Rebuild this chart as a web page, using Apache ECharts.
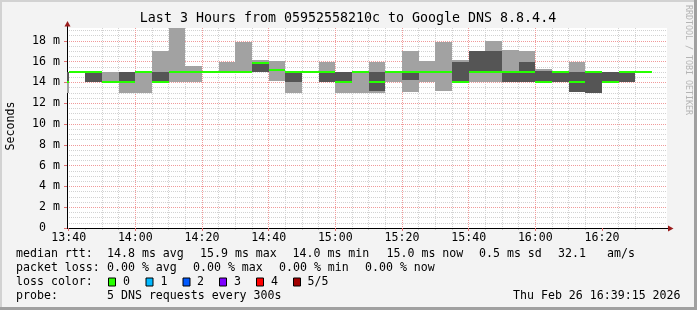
<!DOCTYPE html>
<html><head><meta charset="utf-8">
<script src="https://cdn.jsdelivr.net/npm/echarts@6/dist/echarts.min.js"></script>
<style>html,body{margin:0;padding:0;background:#f3f3f3}#c{width:697px;height:310px}</style>
</head><body><div id="c"></div>
<script>
// ---- data (ms) : one column per 5-minute step, value at step end time ----
const columnEnds = ['13:40','13:45','13:50','13:55','14:00','14:05','14:10','14:15','14:20','14:25','14:30','14:35',
  '14:40','14:45','14:50','14:55','15:00','15:05','15:10','15:15','15:20','15:25','15:30','15:35',
  '15:40','15:45','15:50','15:55','16:00','16:05','16:10','16:15','16:20','16:25','16:30','16:35'];
const pingMin    = [13,15,14,14,13,13,14,14,14,15,15,15,15,14.1,13,15,14,13,13,13,14,13.1,14,13.2,14,14,14,14,14,14,14,13.1,13,14,14,15];
const ping2      = [14,15,14,14,14,15,14,15,15,15,15,15,15,15.2,14,15,14,14,15,13.2,15,14.2,15,15,14,15,15,14,14,14,14,13.1,13,14,14,15];
const pingMedian = [14,15,15,14,14,15,14,15,15,15,15,15,15.9,15.2,15,15,15,14,15,14,15,15,15,15,14,15,15,15,15,14,15,14,15,14,15,15];
const ping4      = [15,15,15,14,15,15,15,15,15,15,15,15,16,15.2,15,15,15,15,15,15,15,15,15,15,16,17,17,15,16,15.1,15,15,15,15,15,15];
const pingMax    = [15,15,15,15,15,15,17,20,15.6,15,16,17.9,16.2,16.1,15,15,16,15,15,16,15,17,16.1,17.9,16.15,17,18,17.1,17,15.3,15,16,15,15,15,15];
const lossCount  = [0,0,0,0,0,0,0,0,0,0,0,0,0,0,0,0,0,0,0,0,0,0,0,0,0,0,0,0,0,0,0,0,0,0,0,0];
const stepMinutes = 5;

const xTickLabels = ['13:40','14:00','14:20','14:40','15:00','15:20','15:40','16:00','16:20'];
const yTickLabels = ['0','2 m','4 m','6 m','8 m','10 m','12 m','14 m','16 m','18 m'];
const viewStart = '13:39:30', viewEnd = '16:39:30';
const yMax = 19.23;

const lossColors = ['#26ff00','#00b8ff','#0059ff','#7e00ff','#ff0000','#a10000'];
const lossLabels = ['0','1','2','3','4','5/5'];

const titleText = 'Last 3 Hours from 05952558210c to Google DNS 8.8.4.4';
const statRow1 = ['median rtt:','14.8 ms avg','15.9 ms max','14.0 ms min','15.0 ms now','0.5 ms sd','32.1','am/s'];
const statRow2 = ['packet loss:','0.00 % avg','0.00 % max','0.00 % min','0.00 % now'];
const probeRow = ['probe:','5 DNS requests every 300s'];
const stampText = 'Thu Feb 26 16:39:15 2026';

// ---- helpers ----
const toMin = s => { const p = s.split(':').map(Number); return p[0]*60 + p[1] + (p[2]||0)/60; };
const xMin = toMin(viewStart), xMax = toMin(viewEnd);
const majorVals = xTickLabels.map(toMin);
const minorVals = [];
for (let t = toMin('13:40'); t <= xMax; t += stepMinutes) if (majorVals.indexOf(t) < 0) minorVals.push(t);
const fmtTime = v => { const h = Math.floor(v/60), m = Math.round(v - h*60); return h + ':' + String(m).padStart(2,'0'); };

const data = columnEnds.map((t,i) => [toMin(t), pingMin[i], ping2[i], pingMedian[i], ping4[i], pingMax[i], lossCount[i]]);

const MONO = '"DejaVu Sans Mono", monospace';
const F = '11.6px ' + MONO;

function renderItem(params, api) {
  const t1 = api.value(0), t0 = t1 - stepMinutes;
  const R = p => [Math.round(p[0]), Math.round(p[1])];
  const a = R(api.coord([t0, api.value(5)])), b = R(api.coord([t1, api.value(1)]));
  const c = R(api.coord([t0, api.value(4)])), d = R(api.coord([t1, api.value(2)]));
  const m0 = R(api.coord([t0, api.value(3)])), m1 = R(api.coord([t1, api.value(3)]));
  return { type: 'group', children: [
    { type:'rect', shape:{x:a[0], y:a[1], width:b[0]-a[0], height:b[1]-a[1]}, style:{fill:'#a2a2a2'} },
    { type:'rect', shape:{x:c[0], y:c[1], width:d[0]-c[0], height:d[1]-c[1]}, style:{fill:'#555555'} },
    { type:'rect', shape:{x:m0[0], y:m0[1]-1, width:m1[0]-m0[0], height:2}, style:{fill:lossColors[api.value(6)]} }
  ]};
}

const txt = (text, x, y, extra) => Object.assign({ type:'text', x:x, y:y, z:100,
  style: { text:text, font:F, fill:'#000', align:'left', verticalAlign:'middle', textAlign:'left', textVerticalAlign:'middle' } }, extra||{});

const row1X = [16,107,200,292.5,386.5,479,558,607];
const row2X = [16,107,193,279,365];
const boxX = [108,145.5,182.5,219,256,293];
const boxLabelX = [123,160.5,197,234,271,307.5];

const graphics = [
  // frame
  { type:'rect', shape:{x:0,y:0,width:697,height:2}, style:{fill:'#d2d2d2'}, z:100 },
  { type:'rect', shape:{x:0,y:0,width:2,height:310}, style:{fill:'#d2d2d2'}, z:100 },
  { type:'rect', shape:{x:0,y:307,width:697,height:3}, style:{fill:'#a0a0a0'}, z:100 },
  { type:'rect', shape:{x:694,y:0,width:3,height:310}, style:{fill:'#a0a0a0'}, z:100 },
  // title
  { type:'text', x:348, y:19, z:100, style:{ text:titleText, font:'13.3px ' + MONO, fill:'#000', align:'center', verticalAlign:'middle', textAlign:'center', textVerticalAlign:'middle' } },
  // y axis name
  { type:'text', x:11, y:126, rotation:Math.PI/2, z:100, style:{ text:'Seconds', font:F, fill:'#000', align:'center', verticalAlign:'middle', textAlign:'center', textVerticalAlign:'middle' } },
  // watermark
  { type:'text', x:688, y:60, rotation:-Math.PI/2, z:100, style:{ text:'RRDTOOL / TOBI OETIKER', font:'8.3px ' + MONO, fill:'#b4b4b4', align:'center', verticalAlign:'middle', textAlign:'center', textVerticalAlign:'middle' } },
  // axis arrows
  { type:'line', shape:{x1:667,y1:228.5,x2:669,y2:228.5}, style:{stroke:'#000',lineWidth:1}, z:100 },
  { type:'polygon', shape:{points:[[668,225.5],[673.5,228.5],[668,231.5]]}, style:{fill:'#9a1c1c'}, z:101 },
  { type:'line', shape:{x1:67.5,y1:28,x2:67.5,y2:25}, style:{stroke:'#000',lineWidth:1}, z:100 },
  { type:'polygon', shape:{points:[[64.5,26.5],[67.5,21],[70.5,26.5]]}, style:{fill:'#9a1c1c'}, z:101 }
];
statRow1.forEach((s,i) => graphics.push(txt(s, row1X[i], 254)));
statRow2.forEach((s,i) => graphics.push(txt(s, row2X[i], 268)));
graphics.push(txt('loss color:', 16, 282));
lossColors.forEach((c,i) => {
  graphics.push({ type:'rect', z:100, shape:{x:boxX[i]+0.5, y:278, width:7, height:8}, style:{fill:c, stroke:'#000', lineWidth:1} });
  graphics.push(txt(lossLabels[i], boxLabelX[i], 282));
});
graphics.push(txt(probeRow[0], 16, 296));
graphics.push(txt(probeRow[1], 107, 296));
graphics.push(txt(stampText, 513, 296));

const chart = echarts.init(document.getElementById('c'), null, {renderer:'canvas'});
chart.setOption({
  backgroundColor: '#f3f3f3',
  animation: false,
  grid: { left:67, right:30, top:28, bottom:82, show:true, backgroundColor:'#ffffff', borderWidth:0, containLabel:false, outerBoundsMode:'none' },
  xAxis: [
    { type:'value', min:xMin, max:xMax, position:'bottom', z:2,
      axisLine:{ show:true, onZero:false, lineStyle:{color:'#000', width:1} },
      axisTick:{ show:true, customValues:majorVals, length:3, lineStyle:{color:'#e07070'} },
      axisLabel:{ show:true, customValues:majorVals, formatter:v => xTickLabels[majorVals.indexOf(v)] || fmtTime(v), margin:4,
        fontFamily:MONO, fontSize:11.6, color:'#000' },
      splitLine:{ show:true, showMinLine:false, showMaxLine:false, lineStyle:{color:'#f09a9a', width:1, type:[1,1]} } },
    { type:'value', min:xMin, max:xMax, position:'bottom', z:1,
      axisLine:{ show:false }, axisLabel:{ show:false },
      axisTick:{ show:true, customValues:minorVals, length:2, lineStyle:{color:'#c8c8c8'} },
      splitLine:{ show:true, showMinLine:false, showMaxLine:false, lineStyle:{color:'#d2d2d2', width:1, type:[1,1]} } }
  ],
  yAxis: [
    { type:'value', min:0, max:yMax, interval:2, position:'left', z:3,
      axisLine:{ show:true, lineStyle:{color:'#000', width:1} },
      axisTick:{ show:true, length:3, lineStyle:{color:'#e07070'} },
      axisLabel:{ show:true, showMaxLabel:false, margin:7, fontFamily:MONO, fontSize:11.6, color:'#000',
        formatter: v => { const l = yTickLabels[Math.round(v/2)]; if (l === undefined || Math.abs(v/2 - Math.round(v/2)) > 1e-6) return ''; return l.indexOf('m') >= 0 ? l : l + '  '; } },
      splitLine:{ show:true, showMinLine:false, showMaxLine:false, lineStyle:{color:'#f09a9a', width:1, type:[1,1]} } },
    { type:'value', min:0, max:yMax, interval:0.5, position:'left', z:1,
      axisLine:{ show:false }, axisTick:{ show:false }, axisLabel:{ show:false },
      splitLine:{ show:true, showMinLine:false, showMaxLine:false, lineStyle:{color:'#d2d2d2', width:1, type:[1,1]} } }
  ],
  series: [{
    type:'custom', xAxisIndex:0, yAxisIndex:0, clip:true, z:5,
    renderItem: renderItem,
    encode: { x:[0], y:[1,2,3,4,5] },
    data: data
  }],
  graphic: graphics
});
</script></body></html>
